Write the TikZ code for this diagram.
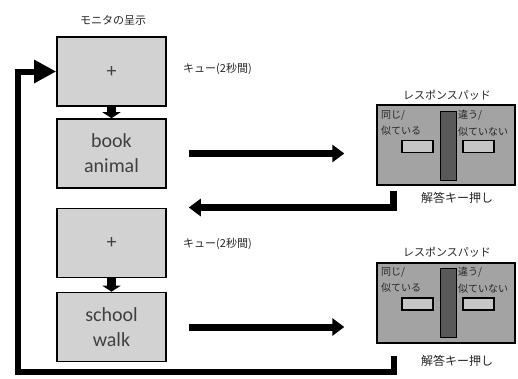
\documentclass[tikz,border=0pt]{standalone}
\usepackage{fontspec}
\setmainfont{Carlito}
\newfontfamily\jp{Noto Sans CJK JP}
\usetikzlibrary{arrows.meta,positioning}
\begin{document}
\begin{tikzpicture}[x=1pt,y=-1pt,
  screen/.style={draw=black,line width=1.6pt,fill=gray!35,minimum width=109pt,minimum height=69pt,inner sep=0pt,align=center,font=\fontsize{20}{25}\selectfont,text=black!75},
  pad/.style={draw=black,line width=1.4pt,fill=gray!72,minimum width=138pt,minimum height=80pt,inner sep=0pt},
  bar/.style={draw=black,line width=1pt,fill=black!65,minimum width=16pt,minimum height=69pt,inner sep=0pt},
  btn/.style={draw=black,line width=1.4pt,fill=gray!45,minimum width=31pt,minimum height=12pt,inner sep=0pt},
  jlabel/.style={font=\jp\fontsize{11}{13}\selectfont,inner sep=0pt,text=black!85},
  plabel/.style={font=\jp\fontsize{10}{16.5}\selectfont,inner sep=0pt,align=left,anchor=north west,text=black!85},
  bigarrow/.style={line width=7pt,-{Triangle[length=12pt,width=17pt]}},
  downarrow/.style={line width=9pt,-{Triangle[length=6pt,width=18pt]}},
  loopline/.style={line width=6pt}]
\useasboundingbox (0,0) rectangle (518,378);
% screens
\node[screen] (s1) at (111.5,71.5) {+};
\node[screen] (s2) at (111.5,153.5) {book\\animal};
\node[screen] (s3) at (111.5,243) {+};
\node[screen] (s4) at (111.5,327) {school\\walk};
\node[jlabel] (title) at (113,20) {モニタの呈示};
\node[jlabel,anchor=west] (cue1) at (183,69) {キュー(2秒間)};
\node[jlabel,anchor=west] (cue2) at (183,244) {キュー(2秒間)};
\draw[downarrow] (s1.south) -- (s2.north);
\draw[downarrow] (s3.south) -- (s4.north);
% pad 1
\node[pad] (p1) at (446,145) {};
\node[bar] (b1) at (448.5,145.5) {};
\node[btn] (l1) at (417.5,146.5) {};
\node[btn] (r1) at (478.5,146.5) {};
\node[plabel] (t1a) at (381,110) {同じ/\\似ている};
\node[plabel] (t1b) at (458,110) {違う/\\似ていない};
\node[jlabel] (pt1) at (447,95) {レスポンスパッド};
\node[jlabel,font=\jp\fontsize{12}{14}\selectfont] (k1) at (457,198) {解答キー押し};
% pad 2
\node[pad] (p2) at (446,303) {};
\node[bar] (b2) at (448.5,303) {};
\node[btn] (l2) at (417.5,304) {};
\node[btn] (r2) at (478.5,304) {};
\node[plabel] (t2a) at (381,267) {同じ/\\似ている};
\node[plabel] (t2b) at (458,267) {違う/\\似ていない};
\node[jlabel] (pt2) at (447,252) {レスポンスパッド};
\node[jlabel,font=\jp\fontsize{12}{14}\selectfont] (k2) at (457,361) {解答キー押し};
% forward arrows
\draw[bigarrow] ([xshift=22pt]s2.east) -- ([xshift=-32pt]p1.west |- s2.east);
\draw[bigarrow] ([xshift=22pt]s4.east) -- ([xshift=-32pt]p2.west |- s4.east);
% return arrow
\coordinate (r1top) at (393,191);
\draw[bigarrow] (r1top) |- ([xshift=22pt]s2.east |- 0,207.5);
% loop back
\coordinate (r2top) at (393.5,356);
\coordinate (loopbl) at (18,372);
\draw[loopline,-{Triangle[length=22pt,width=22pt]}] (r2top) |- (loopbl) |- (s1.west);
\end{tikzpicture}
\end{document}
